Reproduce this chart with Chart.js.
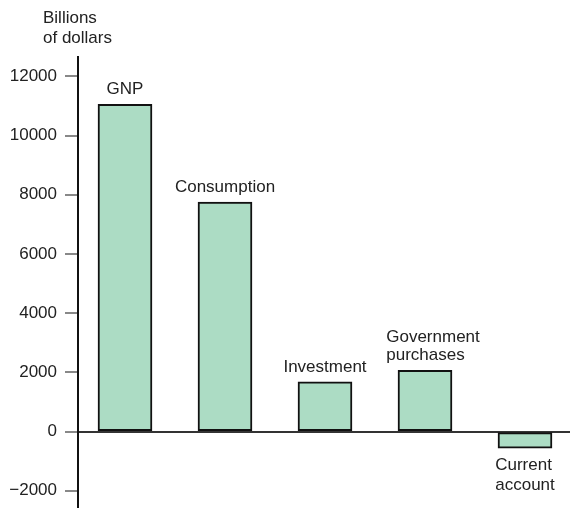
<!DOCTYPE html>
<html>
<head>
<meta charset="utf-8">
<script src="https://cdn.jsdelivr.net/npm/chart.js@4"></script>
<style>
  html, body { margin: 0; padding: 0; background: #fff; overflow: hidden; }
  canvas { display: block; }
</style>
</head>
<body>
<canvas id="myChart" width="570" height="525"></canvas>
<script>
const categories = ['GNP', 'Consumption', 'Investment', 'Government\npurchases', 'Current\naccount'];
const values = [11050, 7750, 1680, 2070, -560];
const yTicks = [-2000, 0, 2000, 4000, 6000, 8000, 10000, 12000];
const axisTitle = ['Billions', 'of dollars'];

const FONT = '"Liberation Sans", Arial, Helvetica, sans-serif';
const TEXT = '#222';

// small nudges for the bar captions (px)
const labelShift = [0, 0, 0, 8, 0];

const barLabels = {
    id: 'barLabels',
    afterDatasetsDraw(chart) {
        const c = chart.ctx;
        const meta = chart.getDatasetMeta(0);
        c.save();
        c.font = '17px ' + FONT;
        c.fillStyle = TEXT;
        c.textBaseline = 'alphabetic';
        c.textAlign = 'left';
        meta.data.forEach((el, i) => {
            const lines = categories[i].split('\n');
            const w = Math.max(...lines.map(l => c.measureText(l).width));
            const left = el.x - w / 2 + labelShift[i];
            const lh = 18;
            if (values[i] >= 0) {
                const last = el.y - 10;
                lines.forEach((l, j) => {
                    c.fillText(l, left, last - (lines.length - 1 - j) * lh);
                });
            } else {
                const first = el.y + 22;
                lines.forEach((l, j) => c.fillText(l, left, first + j * 20));
            }
        });
        c.restore();
    }
};

const yTitle = {
    id: 'yTitle',
    afterDraw(chart) {
        const c = chart.ctx;
        c.save();
        c.font = '17px ' + FONT;
        c.fillStyle = TEXT;
        c.textAlign = 'left';
        c.textBaseline = 'alphabetic';
        c.fillText(axisTitle[0], 43, 23);
        c.fillText(axisTitle[1], 43, 43);
        c.restore();
    }
};

const ctx = document.getElementById('myChart');

new Chart(ctx, {
    type: 'bar',
    data: {
        datasets: [{
            data: values.map((v, i) => ({ x: i + 1, y: v })),
            backgroundColor: '#acdcc4',
            borderColor: '#111',
            borderWidth: 2,
            borderSkipped: false,
            barThickness: 54,
        }]
    },
    plugins: [barLabels, yTitle],
    options: {
        responsive: false,
        animation: false,
        layout: {
            autoPadding: false,
            padding: { top: 57, left: 0, right: 0, bottom: 0 }
        },
        plugins: {
            legend: { display: false },
            tooltip: { enabled: false },
        },
        scales: {
            x: {
                type: 'linear',
                display: false,
                offset: false,
                min: 0.53,
                max: 5.45,
            },
            y: {
                min: -2542,
                max: 12653,
                afterBuildTicks: (scale) => {
                    scale.ticks = yTicks.map(v => ({ value: v }));
                },
                afterFit: (scale) => {
                    scale.width = 78;
                },
                border: { display: true, color: '#111', width: 2 },
                grid: {
                    drawOnChartArea: true,
                    color: (c) => (c.tick && c.tick.value === 0 ? '#333' : 'rgba(0,0,0,0)'),
                    lineWidth: 2,
                    tickColor: '#888',
                    tickWidth: 2,
                    tickLength: 13,
                },
                ticks: {
                    padding: 8,
                    color: TEXT,
                    font: { family: FONT, size: 17 },
                    callback: function (value) {
                        return String(value).replace('-', '\u2212');
                    },
                },
            }
        }
    }
});
</script>
</body>
</html>
